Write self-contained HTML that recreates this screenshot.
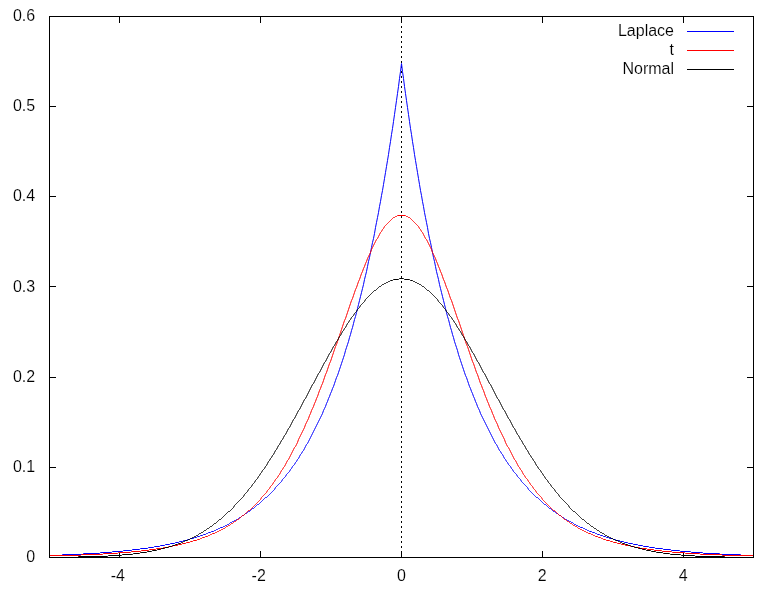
<!DOCTYPE html>
<html><head><meta charset="utf-8"><title>Laplace, t, Normal</title>
<style>
html,body{margin:0;padding:0;background:#fff;}
svg{display:block;}
text{font-family:"Liberation Sans",sans-serif;font-size:16px;fill:#000;stroke:#fff;stroke-width:0.14px;paint-order:fill stroke;}
</style></head><body>
<svg width="782" height="590" viewBox="0 0 782 590">
<rect width="782" height="590" fill="#fff"/>

<line x1="401.5" y1="26" x2="401.5" y2="557" stroke="#000" stroke-width="1" stroke-dasharray="2 3" shape-rendering="crispEdges"/>
<g stroke="#000" stroke-width="1" fill="none" shape-rendering="crispEdges">
<line x1="49.5" y1="557.5" x2="56.0" y2="557.5"/>
<line x1="753.5" y1="557.5" x2="747.0" y2="557.5"/>
<line x1="49.5" y1="467.5" x2="56.0" y2="467.5"/>
<line x1="753.5" y1="467.5" x2="747.0" y2="467.5"/>
<line x1="49.5" y1="377.5" x2="56.0" y2="377.5"/>
<line x1="753.5" y1="377.5" x2="747.0" y2="377.5"/>
<line x1="49.5" y1="286.5" x2="56.0" y2="286.5"/>
<line x1="753.5" y1="286.5" x2="747.0" y2="286.5"/>
<line x1="49.5" y1="196.5" x2="56.0" y2="196.5"/>
<line x1="753.5" y1="196.5" x2="747.0" y2="196.5"/>
<line x1="49.5" y1="106.5" x2="56.0" y2="106.5"/>
<line x1="753.5" y1="106.5" x2="747.0" y2="106.5"/>
<line x1="49.5" y1="16.5" x2="56.0" y2="16.5"/>
<line x1="753.5" y1="16.5" x2="747.0" y2="16.5"/>
<line x1="119.5" y1="557.5" x2="119.5" y2="551.0"/>
<line x1="119.5" y1="16.5" x2="119.5" y2="23.0"/>
<line x1="260.5" y1="557.5" x2="260.5" y2="551.0"/>
<line x1="260.5" y1="16.5" x2="260.5" y2="23.0"/>
<line x1="401.5" y1="557.5" x2="401.5" y2="551.0"/>
<line x1="401.5" y1="16.5" x2="401.5" y2="23.0"/>
<line x1="542.5" y1="557.5" x2="542.5" y2="551.0"/>
<line x1="542.5" y1="16.5" x2="542.5" y2="23.0"/>
<line x1="683.5" y1="557.5" x2="683.5" y2="551.0"/>
<line x1="683.5" y1="16.5" x2="683.5" y2="23.0"/>
</g>
<g fill="none" stroke-width="1" stroke-linejoin="round">
<path stroke="#0000ff" d="M49.5 555.5L61.5 555.5L62.5 554.5L82.5 554.5L83.5 553.5L99.5 553.5L100.5 552.5L111.5 552.5L112.5 551.5L122.5 551.5L123.5 550.5L131.5 550.5L132.5 549.5L139.5 549.5L140.5 548.5L147.5 548.5L148.5 547.5L153.5 547.5L154.5 546.5L159.5 546.5L160.5 545.5L164.5 545.5L165.5 544.5L169.5 544.5L170.5 543.5L174.5 543.5L175.5 542.5L178.5 542.5L179.5 541.5L182.5 541.5L183.5 540.5L186.5 540.5L187.5 539.5L189.5 539.5L190.5 538.5L193.5 538.5L194.5 537.5L196.5 537.5L197.5 536.5L199.5 536.5L200.5 535.5L202.5 535.5L203.5 534.5L205.5 534.5L206.5 533.5L207.5 533.5L208.5 532.5L210.5 532.5L211.5 531.5L213.5 531.5L214.5 530.5L215.5 530.5L216.5 529.5L217.5 529.5L218.5 528.5L219.5 528.5L220.5 527.5L222.5 527.5L223.5 526.5L224.5 526.5L225.5 525.5L226.5 525.5L227.5 524.5L228.5 524.5L229.5 523.5L230.5 522.5L231.5 522.5L232.5 521.5L233.5 521.5L234.5 520.5L235.5 520.5L236.5 519.5L237.5 519.5L238.5 518.5L239.5 517.5L240.5 517.5L241.5 516.5L242.5 515.5L243.5 515.5L244.5 514.5L245.5 513.5L246.5 513.5L247.5 512.5L248.5 511.5L249.5 511.5L250.5 510.5L251.5 509.5L252.5 508.5L253.5 508.5L254.5 507.5L255.5 506.5L256.5 505.5L257.5 504.5L258.5 504.5L259.5 503.5L260.5 502.5L261.5 501.5L262.5 500.5L263.5 499.5L264.5 498.5L265.5 497.5L266.5 497.5L267.5 496.5L268.5 495.5L269.5 494.5L270.5 493.5L271.5 492.5L272.5 491.5L273.5 490.5L274.5 489.5L275.5 487.5L276.5 486.5L277.5 485.5L278.5 484.5L279.5 483.5L280.5 482.5L281.5 481.5L282.5 479.5L283.5 478.5L284.5 477.5L285.5 476.5L286.5 474.5L287.5 473.5L288.5 472.5L289.5 471.5L290.5 469.5L291.5 468.5L292.5 466.5L293.5 465.5L294.5 464.5L295.5 462.5L296.5 461.5L297.5 459.5L298.5 458.5L299.5 456.5L300.5 454.5L301.5 453.5L302.5 451.5L303.5 450.5L304.5 448.5L305.5 446.5L306.5 444.5L307.5 443.5L308.5 441.5L309.5 439.5L310.5 437.5L311.5 435.5L312.5 433.5L313.5 431.5L314.5 429.5L315.5 427.5L316.5 425.5L317.5 423.5L318.5 421.5L319.5 419.5L320.5 417.5L321.5 415.5L322.5 413.5L323.5 410.5L324.5 408.5L325.5 406.5L326.5 403.5L327.5 401.5L328.5 398.5L329.5 396.5L330.5 393.5L331.5 391.5L332.5 388.5L333.5 386.5L334.5 383.5L335.5 380.5L336.5 377.5L337.5 375.5L338.5 372.5L339.5 369.5L340.5 366.5L341.5 363.5L342.5 360.5L343.5 357.5L344.5 354.5L345.5 350.5L346.5 347.5L347.5 344.5L348.5 341.5L349.5 337.5L350.5 334.5L351.5 330.5L352.5 327.5L353.5 323.5L354.5 319.5L355.5 316.5L356.5 312.5L357.5 308.5L358.5 304.5L359.5 300.5L360.5 296.5L361.5 292.5L362.5 288.5L363.5 284.5L364.5 279.5L365.5 275.5L366.5 271.5L367.5 266.5L368.5 261.5L369.5 257.5L370.5 252.5L371.5 247.5L372.5 242.5L373.5 238.5L374.5 233.5L375.5 227.5L376.5 222.5L377.5 217.5L378.5 212.5L379.5 206.5L380.5 201.5L381.5 195.5L382.5 190.5L383.5 184.5L384.5 178.5L385.5 172.5L386.5 166.5L387.5 160.5L388.5 154.5L389.5 147.5L390.5 141.5L391.5 134.5L392.5 128.5L393.5 121.5L394.5 114.5L395.5 107.5L396.5 100.5L397.5 93.5L398.5 86.5L399.5 78.5L400.5 71.5L401.5 63.5L402.5 71.5L403.5 78.5L404.5 86.5L405.5 93.5L406.5 100.5L407.5 107.5L408.5 114.5L409.5 121.5L410.5 128.5L411.5 134.5L412.5 141.5L413.5 147.5L414.5 154.5L415.5 160.5L416.5 166.5L417.5 172.5L418.5 178.5L419.5 184.5L420.5 190.5L421.5 195.5L422.5 201.5L423.5 206.5L424.5 212.5L425.5 217.5L426.5 222.5L427.5 227.5L428.5 233.5L429.5 238.5L430.5 242.5L431.5 247.5L432.5 252.5L433.5 257.5L434.5 261.5L435.5 266.5L436.5 271.5L437.5 275.5L438.5 279.5L439.5 284.5L440.5 288.5L441.5 292.5L442.5 296.5L443.5 300.5L444.5 304.5L445.5 308.5L446.5 312.5L447.5 316.5L448.5 319.5L449.5 323.5L450.5 327.5L451.5 330.5L452.5 334.5L453.5 337.5L454.5 341.5L455.5 344.5L456.5 347.5L457.5 350.5L458.5 354.5L459.5 357.5L460.5 360.5L461.5 363.5L462.5 366.5L463.5 369.5L464.5 372.5L465.5 375.5L466.5 377.5L467.5 380.5L468.5 383.5L469.5 386.5L470.5 388.5L471.5 391.5L472.5 393.5L473.5 396.5L474.5 398.5L475.5 401.5L476.5 403.5L477.5 406.5L478.5 408.5L479.5 410.5L480.5 413.5L481.5 415.5L482.5 417.5L483.5 419.5L484.5 421.5L485.5 423.5L486.5 425.5L487.5 427.5L488.5 429.5L489.5 431.5L490.5 433.5L491.5 435.5L492.5 437.5L493.5 439.5L494.5 441.5L495.5 443.5L496.5 444.5L497.5 446.5L498.5 448.5L499.5 450.5L500.5 451.5L501.5 453.5L502.5 454.5L503.5 456.5L504.5 458.5L505.5 459.5L506.5 461.5L507.5 462.5L508.5 464.5L509.5 465.5L510.5 466.5L511.5 468.5L512.5 469.5L513.5 471.5L514.5 472.5L515.5 473.5L516.5 474.5L517.5 476.5L518.5 477.5L519.5 478.5L520.5 479.5L521.5 481.5L522.5 482.5L523.5 483.5L524.5 484.5L525.5 485.5L526.5 486.5L527.5 487.5L528.5 489.5L529.5 490.5L530.5 491.5L531.5 492.5L532.5 493.5L533.5 494.5L534.5 495.5L535.5 496.5L536.5 497.5L537.5 497.5L538.5 498.5L539.5 499.5L540.5 500.5L541.5 501.5L542.5 502.5L543.5 503.5L544.5 504.5L545.5 504.5L546.5 505.5L547.5 506.5L548.5 507.5L549.5 508.5L550.5 508.5L551.5 509.5L552.5 510.5L553.5 511.5L554.5 511.5L555.5 512.5L556.5 513.5L557.5 513.5L558.5 514.5L559.5 515.5L560.5 515.5L561.5 516.5L562.5 517.5L563.5 517.5L564.5 518.5L565.5 519.5L566.5 519.5L567.5 520.5L568.5 520.5L569.5 521.5L570.5 521.5L571.5 522.5L572.5 522.5L573.5 523.5L574.5 524.5L575.5 524.5L576.5 525.5L577.5 525.5L578.5 526.5L579.5 526.5L580.5 527.5L582.5 527.5L583.5 528.5L584.5 528.5L585.5 529.5L586.5 529.5L587.5 530.5L588.5 530.5L589.5 531.5L591.5 531.5L592.5 532.5L594.5 532.5L595.5 533.5L596.5 533.5L597.5 534.5L599.5 534.5L600.5 535.5L602.5 535.5L603.5 536.5L605.5 536.5L606.5 537.5L608.5 537.5L609.5 538.5L612.5 538.5L613.5 539.5L615.5 539.5L616.5 540.5L619.5 540.5L620.5 541.5L623.5 541.5L624.5 542.5L627.5 542.5L628.5 543.5L632.5 543.5L633.5 544.5L637.5 544.5L638.5 545.5L642.5 545.5L643.5 546.5L648.5 546.5L649.5 547.5L654.5 547.5L655.5 548.5L662.5 548.5L663.5 549.5L670.5 549.5L671.5 550.5L679.5 550.5L680.5 551.5L690.5 551.5L691.5 552.5L702.5 552.5L703.5 553.5L719.5 553.5L720.5 554.5L740.5 554.5L741.5 555.5L753.5 555.5"/>
<path stroke="#ff0000" d="M49.5 555.5L80.5 555.5L81.5 554.5L102.5 554.5L103.5 553.5L117.5 553.5L118.5 552.5L130.5 552.5L131.5 551.5L140.5 551.5L141.5 550.5L148.5 550.5L149.5 549.5L155.5 549.5L156.5 548.5L162.5 548.5L163.5 547.5L167.5 547.5L168.5 546.5L172.5 546.5L173.5 545.5L177.5 545.5L178.5 544.5L181.5 544.5L182.5 543.5L185.5 543.5L186.5 542.5L189.5 542.5L190.5 541.5L192.5 541.5L193.5 540.5L196.5 540.5L197.5 539.5L199.5 539.5L200.5 538.5L201.5 538.5L202.5 537.5L204.5 537.5L205.5 536.5L207.5 536.5L208.5 535.5L209.5 535.5L210.5 534.5L211.5 534.5L212.5 533.5L214.5 533.5L215.5 532.5L216.5 532.5L217.5 531.5L218.5 531.5L219.5 530.5L220.5 530.5L221.5 529.5L222.5 529.5L223.5 528.5L224.5 528.5L225.5 527.5L226.5 526.5L227.5 526.5L228.5 525.5L229.5 525.5L230.5 524.5L231.5 523.5L232.5 523.5L233.5 522.5L234.5 521.5L235.5 521.5L236.5 520.5L237.5 519.5L238.5 519.5L239.5 518.5L240.5 517.5L241.5 516.5L242.5 515.5L243.5 515.5L244.5 514.5L245.5 513.5L246.5 512.5L247.5 511.5L248.5 510.5L249.5 510.5L250.5 509.5L251.5 508.5L252.5 507.5L253.5 506.5L254.5 505.5L255.5 504.5L256.5 503.5L257.5 502.5L258.5 501.5L259.5 500.5L260.5 499.5L261.5 497.5L262.5 496.5L263.5 495.5L264.5 494.5L265.5 493.5L266.5 492.5L267.5 490.5L268.5 489.5L269.5 488.5L270.5 486.5L271.5 485.5L272.5 484.5L273.5 482.5L274.5 481.5L275.5 479.5L276.5 478.5L277.5 477.5L278.5 475.5L279.5 474.5L280.5 472.5L281.5 470.5L282.5 469.5L283.5 467.5L284.5 466.5L285.5 464.5L286.5 462.5L287.5 460.5L288.5 459.5L289.5 457.5L290.5 455.5L291.5 453.5L292.5 451.5L293.5 449.5L294.5 447.5L295.5 446.5L296.5 444.5L297.5 442.5L298.5 439.5L299.5 437.5L300.5 435.5L301.5 433.5L302.5 431.5L303.5 429.5L304.5 427.5L305.5 424.5L306.5 422.5L307.5 420.5L308.5 418.5L309.5 415.5L310.5 413.5L311.5 410.5L312.5 408.5L313.5 406.5L314.5 403.5L315.5 401.5L316.5 398.5L317.5 396.5L318.5 393.5L319.5 390.5L320.5 388.5L321.5 385.5L322.5 383.5L323.5 380.5L324.5 377.5L325.5 374.5L326.5 372.5L327.5 369.5L328.5 366.5L329.5 363.5L330.5 361.5L331.5 358.5L332.5 355.5L333.5 352.5L334.5 349.5L335.5 346.5L336.5 344.5L337.5 341.5L338.5 338.5L339.5 335.5L340.5 332.5L341.5 329.5L342.5 326.5L343.5 323.5L344.5 320.5L345.5 318.5L346.5 315.5L347.5 312.5L348.5 309.5L349.5 306.5L350.5 303.5L351.5 300.5L352.5 298.5L353.5 295.5L354.5 292.5L355.5 289.5L356.5 287.5L357.5 284.5L358.5 281.5L359.5 279.5L360.5 276.5L361.5 273.5L362.5 271.5L363.5 268.5L364.5 266.5L365.5 263.5L366.5 261.5L367.5 258.5L368.5 256.5L369.5 254.5L370.5 252.5L371.5 249.5L372.5 247.5L373.5 245.5L374.5 243.5L375.5 241.5L376.5 239.5L377.5 238.5L378.5 236.5L379.5 234.5L380.5 232.5L381.5 231.5L382.5 229.5L383.5 228.5L384.5 226.5L385.5 225.5L386.5 224.5L387.5 223.5L388.5 222.5L389.5 221.5L390.5 220.5L391.5 219.5L392.5 218.5L393.5 217.5L394.5 217.5L395.5 216.5L396.5 216.5L397.5 215.5L405.5 215.5L406.5 216.5L407.5 216.5L408.5 217.5L409.5 217.5L410.5 218.5L411.5 219.5L412.5 220.5L413.5 221.5L414.5 222.5L415.5 223.5L416.5 224.5L417.5 225.5L418.5 226.5L419.5 228.5L420.5 229.5L421.5 231.5L422.5 232.5L423.5 234.5L424.5 236.5L425.5 238.5L426.5 239.5L427.5 241.5L428.5 243.5L429.5 245.5L430.5 247.5L431.5 249.5L432.5 252.5L433.5 254.5L434.5 256.5L435.5 258.5L436.5 261.5L437.5 263.5L438.5 266.5L439.5 268.5L440.5 271.5L441.5 273.5L442.5 276.5L443.5 279.5L444.5 281.5L445.5 284.5L446.5 287.5L447.5 289.5L448.5 292.5L449.5 295.5L450.5 298.5L451.5 300.5L452.5 303.5L453.5 306.5L454.5 309.5L455.5 312.5L456.5 315.5L457.5 318.5L458.5 320.5L459.5 323.5L460.5 326.5L461.5 329.5L462.5 332.5L463.5 335.5L464.5 338.5L465.5 341.5L466.5 344.5L467.5 346.5L468.5 349.5L469.5 352.5L470.5 355.5L471.5 358.5L472.5 361.5L473.5 363.5L474.5 366.5L475.5 369.5L476.5 372.5L477.5 374.5L478.5 377.5L479.5 380.5L480.5 383.5L481.5 385.5L482.5 388.5L483.5 390.5L484.5 393.5L485.5 396.5L486.5 398.5L487.5 401.5L488.5 403.5L489.5 406.5L490.5 408.5L491.5 410.5L492.5 413.5L493.5 415.5L494.5 418.5L495.5 420.5L496.5 422.5L497.5 424.5L498.5 427.5L499.5 429.5L500.5 431.5L501.5 433.5L502.5 435.5L503.5 437.5L504.5 439.5L505.5 442.5L506.5 444.5L507.5 446.5L508.5 447.5L509.5 449.5L510.5 451.5L511.5 453.5L512.5 455.5L513.5 457.5L514.5 459.5L515.5 460.5L516.5 462.5L517.5 464.5L518.5 466.5L519.5 467.5L520.5 469.5L521.5 470.5L522.5 472.5L523.5 474.5L524.5 475.5L525.5 477.5L526.5 478.5L527.5 479.5L528.5 481.5L529.5 482.5L530.5 484.5L531.5 485.5L532.5 486.5L533.5 488.5L534.5 489.5L535.5 490.5L536.5 492.5L537.5 493.5L538.5 494.5L539.5 495.5L540.5 496.5L541.5 497.5L542.5 499.5L543.5 500.5L544.5 501.5L545.5 502.5L546.5 503.5L547.5 504.5L548.5 505.5L549.5 506.5L550.5 507.5L551.5 508.5L552.5 509.5L553.5 510.5L554.5 510.5L555.5 511.5L556.5 512.5L557.5 513.5L558.5 514.5L559.5 515.5L560.5 515.5L561.5 516.5L562.5 517.5L563.5 518.5L564.5 519.5L565.5 519.5L566.5 520.5L567.5 521.5L568.5 521.5L569.5 522.5L570.5 523.5L571.5 523.5L572.5 524.5L573.5 525.5L574.5 525.5L575.5 526.5L576.5 526.5L577.5 527.5L578.5 528.5L579.5 528.5L580.5 529.5L581.5 529.5L582.5 530.5L583.5 530.5L584.5 531.5L585.5 531.5L586.5 532.5L587.5 532.5L588.5 533.5L590.5 533.5L591.5 534.5L592.5 534.5L593.5 535.5L594.5 535.5L595.5 536.5L597.5 536.5L598.5 537.5L600.5 537.5L601.5 538.5L602.5 538.5L603.5 539.5L605.5 539.5L606.5 540.5L609.5 540.5L610.5 541.5L612.5 541.5L613.5 542.5L616.5 542.5L617.5 543.5L620.5 543.5L621.5 544.5L624.5 544.5L625.5 545.5L629.5 545.5L630.5 546.5L634.5 546.5L635.5 547.5L639.5 547.5L640.5 548.5L646.5 548.5L647.5 549.5L653.5 549.5L654.5 550.5L661.5 550.5L662.5 551.5L671.5 551.5L672.5 552.5L684.5 552.5L685.5 553.5L699.5 553.5L700.5 554.5L721.5 554.5L722.5 555.5L753.5 555.5"/>
<path stroke="#000000" d="M49.5 557.5L77.5 557.5L78.5 556.5L107.5 556.5L108.5 555.5L121.5 555.5L122.5 554.5L132.5 554.5L133.5 553.5L139.5 553.5L140.5 552.5L146.5 552.5L147.5 551.5L151.5 551.5L152.5 550.5L156.5 550.5L157.5 549.5L160.5 549.5L161.5 548.5L164.5 548.5L165.5 547.5L168.5 547.5L169.5 546.5L171.5 546.5L172.5 545.5L174.5 545.5L175.5 544.5L177.5 544.5L178.5 543.5L180.5 543.5L181.5 542.5L182.5 542.5L183.5 541.5L184.5 541.5L185.5 540.5L187.5 540.5L188.5 539.5L189.5 539.5L190.5 538.5L191.5 538.5L192.5 537.5L193.5 537.5L194.5 536.5L195.5 536.5L196.5 535.5L197.5 535.5L198.5 534.5L199.5 533.5L200.5 533.5L201.5 532.5L202.5 532.5L203.5 531.5L204.5 530.5L205.5 530.5L206.5 529.5L207.5 528.5L208.5 528.5L209.5 527.5L210.5 526.5L211.5 526.5L212.5 525.5L213.5 524.5L214.5 523.5L215.5 523.5L216.5 522.5L217.5 521.5L218.5 520.5L219.5 519.5L220.5 519.5L221.5 518.5L222.5 517.5L223.5 516.5L224.5 515.5L225.5 514.5L226.5 513.5L227.5 512.5L228.5 511.5L229.5 511.5L230.5 510.5L231.5 509.5L232.5 508.5L233.5 507.5L234.5 505.5L235.5 504.5L236.5 503.5L237.5 502.5L238.5 501.5L239.5 500.5L240.5 499.5L241.5 498.5L242.5 497.5L243.5 496.5L244.5 494.5L245.5 493.5L246.5 492.5L247.5 491.5L248.5 489.5L249.5 488.5L250.5 487.5L251.5 486.5L252.5 484.5L253.5 483.5L254.5 482.5L255.5 480.5L256.5 479.5L257.5 478.5L258.5 476.5L259.5 475.5L260.5 473.5L261.5 472.5L262.5 470.5L263.5 469.5L264.5 468.5L265.5 466.5L266.5 465.5L267.5 463.5L268.5 461.5L269.5 460.5L270.5 458.5L271.5 457.5L272.5 455.5L273.5 454.5L274.5 452.5L275.5 450.5L276.5 449.5L277.5 447.5L278.5 445.5L279.5 444.5L280.5 442.5L281.5 440.5L282.5 439.5L283.5 437.5L284.5 435.5L285.5 434.5L286.5 432.5L287.5 430.5L288.5 428.5L289.5 427.5L290.5 425.5L291.5 423.5L292.5 421.5L293.5 419.5L294.5 418.5L295.5 416.5L296.5 414.5L297.5 412.5L298.5 410.5L299.5 409.5L300.5 407.5L301.5 405.5L302.5 403.5L303.5 401.5L304.5 399.5L305.5 398.5L306.5 396.5L307.5 394.5L308.5 392.5L309.5 390.5L310.5 388.5L311.5 386.5L312.5 384.5L313.5 383.5L314.5 381.5L315.5 379.5L316.5 377.5L317.5 375.5L318.5 373.5L319.5 372.5L320.5 370.5L321.5 368.5L322.5 366.5L323.5 364.5L324.5 362.5L325.5 361.5L326.5 359.5L327.5 357.5L328.5 355.5L329.5 353.5L330.5 352.5L331.5 350.5L332.5 348.5L333.5 346.5L334.5 345.5L335.5 343.5L336.5 341.5L337.5 340.5L338.5 338.5L339.5 336.5L340.5 335.5L341.5 333.5L342.5 331.5L343.5 330.5L344.5 328.5L345.5 327.5L346.5 325.5L347.5 323.5L348.5 322.5L349.5 320.5L350.5 319.5L351.5 317.5L352.5 316.5L353.5 315.5L354.5 313.5L355.5 312.5L356.5 311.5L357.5 309.5L358.5 308.5L359.5 307.5L360.5 305.5L361.5 304.5L362.5 303.5L363.5 302.5L364.5 301.5L365.5 299.5L366.5 298.5L367.5 297.5L368.5 296.5L369.5 295.5L370.5 294.5L371.5 293.5L372.5 292.5L373.5 291.5L374.5 290.5L375.5 290.5L376.5 289.5L377.5 288.5L378.5 287.5L379.5 286.5L380.5 286.5L381.5 285.5L382.5 284.5L383.5 284.5L384.5 283.5L385.5 283.5L386.5 282.5L387.5 282.5L388.5 281.5L389.5 281.5L390.5 280.5L392.5 280.5L393.5 279.5L398.5 279.5L399.5 278.5L403.5 278.5L404.5 279.5L409.5 279.5L410.5 280.5L412.5 280.5L413.5 281.5L414.5 281.5L415.5 282.5L416.5 282.5L417.5 283.5L418.5 283.5L419.5 284.5L420.5 284.5L421.5 285.5L422.5 286.5L423.5 286.5L424.5 287.5L425.5 288.5L426.5 289.5L427.5 290.5L428.5 290.5L429.5 291.5L430.5 292.5L431.5 293.5L432.5 294.5L433.5 295.5L434.5 296.5L435.5 297.5L436.5 298.5L437.5 299.5L438.5 301.5L439.5 302.5L440.5 303.5L441.5 304.5L442.5 305.5L443.5 307.5L444.5 308.5L445.5 309.5L446.5 311.5L447.5 312.5L448.5 313.5L449.5 315.5L450.5 316.5L451.5 317.5L452.5 319.5L453.5 320.5L454.5 322.5L455.5 323.5L456.5 325.5L457.5 327.5L458.5 328.5L459.5 330.5L460.5 331.5L461.5 333.5L462.5 335.5L463.5 336.5L464.5 338.5L465.5 340.5L466.5 341.5L467.5 343.5L468.5 345.5L469.5 346.5L470.5 348.5L471.5 350.5L472.5 352.5L473.5 353.5L474.5 355.5L475.5 357.5L476.5 359.5L477.5 361.5L478.5 362.5L479.5 364.5L480.5 366.5L481.5 368.5L482.5 370.5L483.5 372.5L484.5 373.5L485.5 375.5L486.5 377.5L487.5 379.5L488.5 381.5L489.5 383.5L490.5 384.5L491.5 386.5L492.5 388.5L493.5 390.5L494.5 392.5L495.5 394.5L496.5 396.5L497.5 398.5L498.5 399.5L499.5 401.5L500.5 403.5L501.5 405.5L502.5 407.5L503.5 409.5L504.5 410.5L505.5 412.5L506.5 414.5L507.5 416.5L508.5 418.5L509.5 419.5L510.5 421.5L511.5 423.5L512.5 425.5L513.5 427.5L514.5 428.5L515.5 430.5L516.5 432.5L517.5 434.5L518.5 435.5L519.5 437.5L520.5 439.5L521.5 440.5L522.5 442.5L523.5 444.5L524.5 445.5L525.5 447.5L526.5 449.5L527.5 450.5L528.5 452.5L529.5 454.5L530.5 455.5L531.5 457.5L532.5 458.5L533.5 460.5L534.5 461.5L535.5 463.5L536.5 465.5L537.5 466.5L538.5 468.5L539.5 469.5L540.5 470.5L541.5 472.5L542.5 473.5L543.5 475.5L544.5 476.5L545.5 478.5L546.5 479.5L547.5 480.5L548.5 482.5L549.5 483.5L550.5 484.5L551.5 486.5L552.5 487.5L553.5 488.5L554.5 489.5L555.5 491.5L556.5 492.5L557.5 493.5L558.5 494.5L559.5 496.5L560.5 497.5L561.5 498.5L562.5 499.5L563.5 500.5L564.5 501.5L565.5 502.5L566.5 503.5L567.5 504.5L568.5 505.5L569.5 507.5L570.5 508.5L571.5 509.5L572.5 510.5L573.5 511.5L574.5 511.5L575.5 512.5L576.5 513.5L577.5 514.5L578.5 515.5L579.5 516.5L580.5 517.5L581.5 518.5L582.5 519.5L583.5 519.5L584.5 520.5L585.5 521.5L586.5 522.5L587.5 523.5L588.5 523.5L589.5 524.5L590.5 525.5L591.5 526.5L592.5 526.5L593.5 527.5L594.5 528.5L595.5 528.5L596.5 529.5L597.5 530.5L598.5 530.5L599.5 531.5L600.5 532.5L601.5 532.5L602.5 533.5L603.5 533.5L604.5 534.5L605.5 535.5L606.5 535.5L607.5 536.5L608.5 536.5L609.5 537.5L610.5 537.5L611.5 538.5L612.5 538.5L613.5 539.5L614.5 539.5L615.5 540.5L617.5 540.5L618.5 541.5L619.5 541.5L620.5 542.5L621.5 542.5L622.5 543.5L624.5 543.5L625.5 544.5L627.5 544.5L628.5 545.5L630.5 545.5L631.5 546.5L633.5 546.5L634.5 547.5L637.5 547.5L638.5 548.5L641.5 548.5L642.5 549.5L645.5 549.5L646.5 550.5L650.5 550.5L651.5 551.5L655.5 551.5L656.5 552.5L662.5 552.5L663.5 553.5L669.5 553.5L670.5 554.5L680.5 554.5L681.5 555.5L694.5 555.5L695.5 556.5L724.5 556.5L725.5 557.5L753.5 557.5"/>
</g>
<rect x="49.5" y="16.5" width="704.0" height="541.0" stroke="#000" stroke-width="1" fill="none" shape-rendering="crispEdges"/>
<g text-anchor="end">
<text x="35.2" y="562.0">0</text>
<text x="35.2" y="471.8">0.1</text>
<text x="35.2" y="381.7">0.2</text>
<text x="35.2" y="291.5">0.3</text>
<text x="35.2" y="201.3">0.4</text>
<text x="35.2" y="111.2">0.5</text>
<text x="35.2" y="21.0">0.6</text>
</g>
<g text-anchor="middle">
<text x="117.9" y="580.5">-4</text>
<text x="258.7" y="580.5">-2</text>
<text x="401.5" y="580.5">0</text>
<text x="542.3" y="580.5">2</text>
<text x="683.1" y="580.5">4</text>
</g>
<g text-anchor="end">
<text x="674" y="36.0">Laplace</text>
<line x1="687" y1="31.5" x2="734" y2="31.5" stroke="#0000ff" stroke-width="1" shape-rendering="crispEdges"/>
<text x="674" y="55.0">t</text>
<line x1="687" y1="50.5" x2="734" y2="50.5" stroke="#ff0000" stroke-width="1" shape-rendering="crispEdges"/>
<text x="674" y="74.0">Normal</text>
<line x1="687" y1="69.5" x2="734" y2="69.5" stroke="#000000" stroke-width="1" shape-rendering="crispEdges"/>
</g>
</svg></body></html>
